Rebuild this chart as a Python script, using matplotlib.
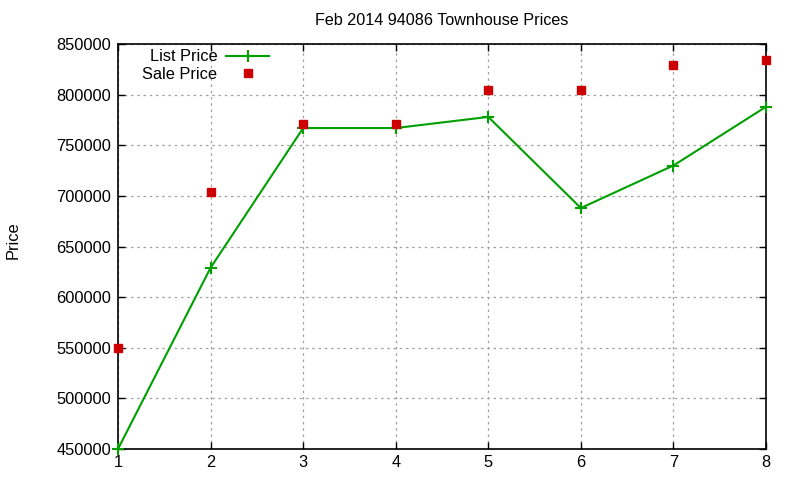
import matplotlib
matplotlib.use("Agg")
import matplotlib.pyplot as plt

x = [1, 2, 3, 4, 5, 6, 7, 8]
list_price = [450000, 629000, 767000, 767000, 778000, 688000, 730000, 788000]
sale_price = [550000, 704000, 771000, 771000, 805000, 805000, 829000, 834000]
yticks = [450000, 500000, 550000, 600000, 650000, 700000, 750000, 800000, 850000]

plt.rcParams['font.family'] = ['Liberation Sans', 'DejaVu Sans']
fig = plt.figure(figsize=(8, 4.8), dpi=100)
ax = fig.add_axes([0.1475, 0.0646, 0.81, 0.8437])

ax.plot(x, list_price, color='#00a000', lw=1.5, marker='+', ms=8, mew=1.5, label='List Price', clip_on=False, zorder=3)
ax.plot(x, sale_price, ls='none', marker='s', ms=6, color='#cc0000', label='Sale Price', clip_on=False, zorder=4)

ax.set_xlim(1, 8)
ax.set_ylim(450000, 850000)
ax.set_xticks(x)
ax.set_yticks(yticks)
ax.set_yticklabels([str(v) for v in yticks])
ax.tick_params(direction='in', length=5, width=1, labelsize=11.8, top=True, right=True, pad=5)
ax.tick_params(axis='x', pad=4.5)
ax.grid(True, color='#a0a0a0', ls=(0, (2, 3)), lw=0.9)
for s in ax.spines.values():
    s.set_linewidth(1.2)

ax.set_title('Feb 2014 94086 Townhouse Prices', fontsize=11.6, pad=14)
fig.text(0.016, 0.5, 'Price', rotation=90, va='center', ha='center', fontsize=11.8)

leg = ax.legend(loc='upper left', bbox_to_anchor=(0.02, 1.015), frameon=False, markerfirst=False,
                fontsize=11.8, handlelength=2.6, handletextpad=0.55, labelspacing=0.15, borderaxespad=0.3)
for t in leg.get_texts():
    t.set_ha('right')

fig.savefig('out.png', dpi=100)
